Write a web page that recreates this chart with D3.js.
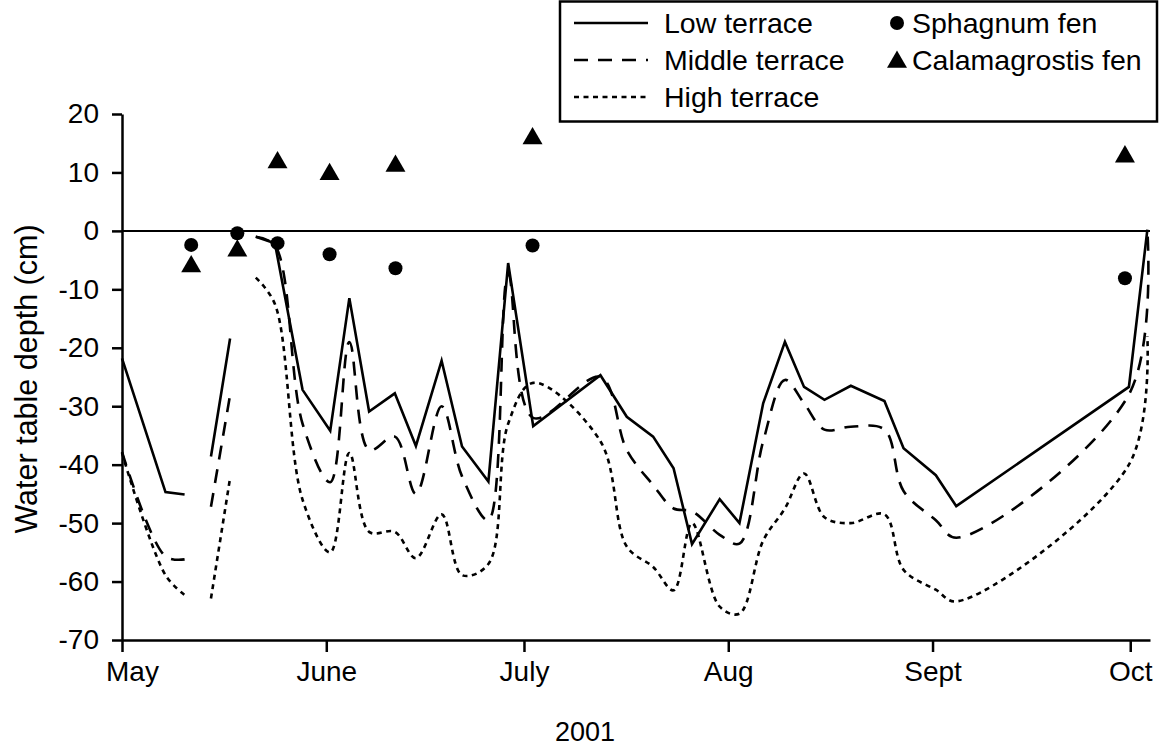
<!DOCTYPE html>
<html>
<head>
  <meta charset="utf-8">
  <title>Water table depth 2001</title>
  <script src="https://d3js.org/d3.v7.min.js"></script>
  <style type="text/css">
    body {margin: 0; background: white;}
    text {font-family: "Liberation Sans", Arial, Helvetica, sans-serif; fill: black;}
    .axis path, .axis line {stroke: black; stroke-width: 2.5px;}
    .axis text {font-size: 28px;}
    .terrace {fill: none; stroke: black; stroke-width: 2.6px;}
  </style>
</head>
<body>
<div id="chart"></div>
<script>
// days after 1 May 2001, null = no reading (gap in the lines)
var days = [0, 6.6, 9.5, 11.5, 13.5, 16.4, 18.4,
            20.3, 23.2, 27.4, 31.6, 34.5, 37.5, 41.4, 44.6, 48.5, 51.6, 55.6, 58.6, 62.4,
            72.6, 76.6, 80.6, 83.7, 86.5, 90.7, 93.7, 97.3, 100.6, 103.5, 106.6, 110.6,
            115.7, 118.6, 123.5, 126.6, 152.8, 155.6];
var lowTerrace = [-21.8, -44.7, -45.1, null, -38.6, -18.4, null,
            -1.0, -2.1, -27.2, -34.2, -11.5, -30.9, -27.8, -36.8, -22.2, -36.9, -42.9, -5.5, -33.4,
            -24.7, -31.8, -35.2, -40.6, -53.6, -45.9, -50.0, -29.5, -19.0, -26.7, -28.9, -26.5,
            -29.1, -37.2, -41.8, -47.1, -26.7, 0.2];
var middleTerrace = [-37.8, -55.7, -56.2, null, -47.2, -28.1, null,
            -1.0, -2.5, -33, -43, -19, -37.5, -35.2, -45, -30, -42, -49.5, -7.5, -32,
            -25, -37.5, -43.5, -47.5, -48, -52, -53.5, -36, -25.5, -29.5, -34, -33.5,
            -34, -44.5, -49.5, -52.5, -28, 0];
var highTerrace = [-38, -58.9, -62.3, null, -62.9, -42.3, null,
            -8, -12.5, -46, -55, -38, -51.5, -51.5, -56, -48.5, -58.9, -57, -33, -26,
            -36, -54, -57.5, -61.5, -50, -64.3, -65.5, -53, -47.5, -41.5, -49, -50,
            -48.5, -58, -61.4, -63.4, -40, -18];

// fen readings
var fenDays = [10.5, 17.5, 23.6, 31.5, 41.5, 62.3, 152.2];
var sphagnumFen = [-2.4, -0.4, -2.1, -4.0, -6.4, -2.5, -8.1];
var calamagrostisFen = [-6.1, -3.4, 11.7, 9.7, 11.1, 15.8, 12.7];

// axes
var monthStarts = [0, 31, 61, 92, 123, 153];
var monthLabels = ["May", "June", "July", "Aug", "Sept", "Oct"];
var depthTicks = [20, 10, 0, -10, -20, -30, -40, -50, -60, -70];

var margin = {top: 114, right: 15, bottom: 108, left: 122},
    width = 1165 - margin.left - margin.right,
    height = 748 - margin.top - margin.bottom;

var svg = d3.select("#chart")
  .append("svg")
    .attr("width", 1165)
    .attr("height", 748);
var plot = svg.append("g")
    .attr("transform", "translate(" + margin.left + "," + margin.top + ")");

var x = d3.scaleLinear()
      .domain([0, 156])
      .range([0, width]);
var y = d3.scaleLinear()
      .domain([-70, 20])
      .range([height, 0]);

var terraces = [
  {name: "Low terrace", values: lowTerrace, dash: null, curve: d3.curveLinear},
  {name: "Middle terrace", values: middleTerrace, dash: "14,10", curve: d3.curveCatmullRom},
  {name: "High terrace", values: highTerrace, dash: "5,4.5", curve: d3.curveCatmullRom}
];
var triangle = d3.symbol().type(d3.symbolTriangle).size(173);

drawAxes();
drawTerraces();
drawFens();
drawLegend();

function drawAxes()
{
  plot.append("g")
    .attr("class", "axis")
    .attr("transform", "translate(0," + height + ")")
    .call(d3.axisBottom(x)
      .tickValues(monthStarts)
      .tickFormat(function(d, i) { return monthLabels[i]; })
      .tickSize(12)
      .tickSizeOuter(0)
      .tickPadding(8))
    .selectAll("text")
      .attr("dy", "0.75em")
      .attr("dx", function(d, i) { return i === 0 ? 10 : 0; });

  // plain hyphen for negative values, as in the original
  plot.append("g")
    .attr("class", "axis")
    .call(d3.axisLeft(y)
      .tickValues(depthTicks)
      .tickFormat(function(d) { return String(d); })
      .tickSize(10)
      .tickSizeOuter(0)
      .tickPadding(13));

  // zero line
  plot.append("line")
    .style("stroke", "black")
    .style("stroke-width", 2)
    .attr("x1", 0)
    .attr("x2", width)
    .attr("y1", y(0))
    .attr("y2", y(0));

  svg.append("text")
    .attr("transform", "translate(26," + (margin.top + height / 2 + 2) + ") rotate(-90)")
    .attr("text-anchor", "middle")
    .attr("dy", "0.36em")
    .style("font-size", "30.5px")
    .text("Water table depth (cm)");

  svg.append("text")
    .attr("x", 585)
    .attr("y", 741)
    .attr("text-anchor", "middle")
    .style("font-size", "27px")
    .text("2001");
}

function drawTerraces()
{
  terraces.forEach(function(t) {
    var data = days.map(function(d, i) { return {day: d, depth: t.values[i]}; });
    plot.append("path")
      .datum(data)
      .attr("class", "terrace")
      .attr("stroke-dasharray", t.dash)
      .attr("d", d3.line()
        .defined(function(d) { return d.depth !== null; })
        .curve(t.curve)
        .x(function(d) { return x(d.day); })
        .y(function(d) { return y(d.depth); }));
  });
}

function drawFens()
{
  plot.append("g")
    .selectAll("path")
    .data(fenDays)
    .enter()
    .append("path")
      .attr("d", triangle)
      .attr("fill", "black")
      .attr("transform", function(d, i) { return "translate(" + x(d) + "," + y(calamagrostisFen[i]) + ")"; });
  plot.append("g")
    .selectAll("circle")
    .data(fenDays)
    .enter()
    .append("circle")
      .attr("cx", function(d) { return x(d); })
      .attr("cy", function(d, i) { return y(sphagnumFen[i]); })
      .attr("r", 7)
      .attr("fill", "black");
}

function drawLegend()
{
  var legend = svg.append("g");
  legend.append("rect")
    .attr("x", 560)
    .attr("y", 1.5)
    .attr("width", 597)
    .attr("height", 120)
    .style("fill", "white")
    .style("stroke", "black")
    .style("stroke-width", 2.5);

  terraces.forEach(function(t, i) {
    var ly = 23 + i * 37;
    legend.append("line")
      .attr("class", "terrace")
      .attr("stroke-dasharray", t.dash)
      .attr("x1", 574)
      .attr("x2", 648)
      .attr("y1", ly)
      .attr("y2", ly);
    legend.append("text")
      .attr("x", 664)
      .attr("y", ly)
      .attr("dy", "0.36em")
      .style("font-size", "28.5px")
      .text(t.name);
  });

  legend.append("circle")
    .attr("cx", 897)
    .attr("cy", 23)
    .attr("r", 7)
    .attr("fill", "black");
  legend.append("text")
    .attr("x", 912)
    .attr("y", 23)
    .attr("dy", "0.36em")
    .style("font-size", "28.5px")
    .text("Sphagnum fen");
  legend.append("path")
    .attr("d", triangle)
    .attr("fill", "black")
    .attr("transform", "translate(897,62)");
  legend.append("text")
    .attr("x", 912)
    .attr("y", 60)
    .attr("dy", "0.36em")
    .style("font-size", "28.5px")
    .text("Calamagrostis fen");
}
</script>
</body>
</html>
